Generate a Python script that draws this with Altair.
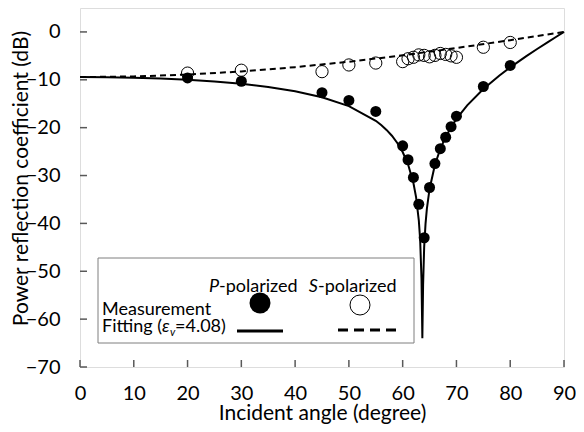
import altair as alt
import pandas as pd

# ---- data ----
angle_meas = [20, 30, 45, 50, 55, 60, 61, 62, 63, 64, 65, 66, 67, 68, 69, 70, 75, 80]
p_meas = [-9.6, -10.3, -12.7, -14.3, -16.6, -23.8, -26.7, -30.4, -36.0, -43.0,
          -32.5, -27.5, -24.4, -22.0, -19.8, -17.6, -11.4, -7.0]
s_meas = [-8.6, -8.0, -8.3, -6.9, -6.5, -6.2, -5.6, -5.3, -4.8, -4.9,
          -5.2, -4.9, -4.5, -4.7, -5.0, -5.3, -3.2, -2.2]

p_fit_angle = [0, 5, 10, 15, 20, 25, 30, 35, 40, 45, 50, 55, 56, 57, 58, 59, 60, 61, 62,
               62.5, 63, 63.25, 63.5, 63.66, 63.8, 64, 64.25, 64.5, 65, 66, 67, 68, 69,
               70, 72, 75, 78, 80, 83, 85, 87, 88.5, 90]
p_fit = [-9.43, -9.46, -9.56, -9.74, -9.99, -10.35, -10.84, -11.50, -12.39, -13.65,
         -15.51, -18.57, -19.44, -20.47, -21.69, -23.19, -25.09, -27.66, -31.55,
         -34.56, -39.35, -43.41, -51.5, -64.0, -52.76, -44.94, -40.10, -36.96,
         -32.80, -27.74, -24.43, -21.93, -19.90, -18.18, -15.33, -11.91, -9.09,
         -7.40, -5.05, -3.57, -2.12, -1.06, 0.0]

s_fit_angle = [0, 10, 20, 30, 40, 50, 60, 70, 80, 85, 90]
s_fit = [-9.43, -9.30, -8.91, -8.26, -7.36, -6.23, -4.89, -3.36, -1.72, -0.86, 0.0]

x_ticks = [0, 10, 20, 30, 40, 50, 60, 70, 80, 90]
y_ticks = [0, -10, -20, -30, -40, -50, -60, -70]

FONT = "Lato"
W, H = 484, 359
LEFT = 72

meas_df = pd.DataFrame({"angle": angle_meas, "p": p_meas, "s": s_meas})
pfit_df = pd.DataFrame({"angle": p_fit_angle, "v": p_fit})
sfit_df = pd.DataFrame({"angle": s_fit_angle, "v": s_fit})
xt_df = pd.DataFrame({"v": x_ticks})
yt_df = pd.DataFrame({"v": y_ticks})
one = pd.DataFrame({"a": [0]})

xscale = alt.Scale(domain=[0, 90], nice=False, zero=False)
yscale = alt.Scale(domain=[-70, 5], nice=False, zero=False)

xaxis = alt.Axis(values=x_ticks, title="Incident angle (degree)", grid=False, ticks=False,
                 domain=False, labelFont=FONT, labelFontSize=20, labelColor="black",
                 labelPadding=16, labelFlush=False, titleFont=FONT, titleFontSize=21,
                 titleFontWeight="normal", titleColor="black", titleY=52,
                 titleBaseline="alphabetic")
yaxis = alt.Axis(values=y_ticks, title="Power reflection coefficient (dB)", grid=False,
                 ticks=False, domain=False, labelFont=FONT, labelFontSize=20,
                 labelColor="black", labelPadding=20, labelFlush=False, titleFont=FONT,
                 titleFontSize=21, titleFontWeight="normal", titleColor="black",
                 titleX=-53, titleY=170, titleAngle=270, titleBaseline="alphabetic",
                 titleAlign="center")

X = alt.X("angle:Q", scale=xscale, axis=xaxis)

p_line = alt.Chart(pfit_df).mark_line(color="black", strokeWidth=2).encode(
    x=X, y=alt.Y("v:Q", scale=yscale, axis=yaxis))
s_line = alt.Chart(sfit_df).mark_line(color="black", strokeWidth=2, strokeDash=[6, 4]).encode(
    x=alt.X("angle:Q", scale=xscale), y=alt.Y("v:Q", scale=yscale))

p_pts = alt.Chart(meas_df).mark_circle(color="black", size=121, opacity=1).encode(
    x=alt.X("angle:Q", scale=xscale), y=alt.Y("p:Q", scale=yscale))
s_pts = alt.Chart(meas_df).mark_point(shape="circle", color="black", filled=False,
                                      strokeWidth=1, size=150, opacity=1).encode(
    x=alt.X("angle:Q", scale=xscale), y=alt.Y("s:Q", scale=yscale))

ytick_marks = alt.Chart(yt_df).mark_rule(color="#595959", strokeWidth=1.5).encode(
    y=alt.Y("v:Q", scale=yscale), x=alt.value(0), x2=alt.value(7))
xtick_marks = alt.Chart(xt_df).mark_rule(color="#595959", strokeWidth=1.5).encode(
    x=alt.X("v:Q", scale=xscale), y=alt.value(H), y2=alt.value(H - 7))

# ---- legend box (pixel offsets inside the plot area) ----
OX = 2
box = alt.Chart(one).mark_rect(fill="white", stroke="#7f7f7f", strokeWidth=1).encode(
    x=alt.value(16 + OX), x2=alt.value(332 + OX), y=alt.value(250), y2=alt.value(335))


def txt(s, x, y, italic=False, size=18, align="left"):
    return alt.Chart(one).mark_text(
        text=s, font=FONT, fontSize=size, fontStyle="italic" if italic else "normal",
        align=align, baseline="alphabetic", color="black"
    ).encode(x=alt.value(x + OX), y=alt.value(y))


legend_parts = [
    txt("P", 137, 284, italic=True, align="right"),
    txt("-polarized", 137, 284),
    txt("S", 236, 284, italic=True, align="right"),
    txt("-polarized", 236, 284),
    txt("Measurement", 20, 307),
    txt("Fitting (", 20, 324),
    txt("\u03b5", 80, 324, italic=True),
    txt("v", 88, 328, italic=True, size=11),
    txt("=4.08)", 93, 324),
]

leg_fill = alt.Chart(one).mark_circle(color="black", size=440, opacity=1).encode(
    x=alt.value(178 + OX), y=alt.value(295))
leg_open = alt.Chart(one).mark_point(shape="circle", color="black", filled=False,
                                     strokeWidth=1, size=400, opacity=1).encode(
    x=alt.value(278 + OX), y=alt.value(297))
leg_solid = alt.Chart(one).mark_rule(color="black", strokeWidth=3).encode(
    x=alt.value(155 + OX), x2=alt.value(201 + OX), y=alt.value(323))
leg_dash = alt.Chart(one).mark_rule(color="black", strokeWidth=3, strokeDash=[10, 6]).encode(
    x=alt.value(256 + OX), x2=alt.value(314 + OX), y=alt.value(322))

chart = alt.layer(
    p_line, s_line, ytick_marks, xtick_marks, p_pts, s_pts, box,
    *legend_parts, leg_fill, leg_open, leg_solid, leg_dash
).properties(
    width=W, height=H,
    padding={"left": LEFT, "top": 0, "right": 568 - LEFT - W, "bottom": 416 - H},
    autosize=alt.AutoSizeParams(type="none"),
).configure_view(stroke="#595959", strokeWidth=1.5).configure(background="white")

chart.save("out.html", embed_options={"renderer": "svg", "actions": False})
